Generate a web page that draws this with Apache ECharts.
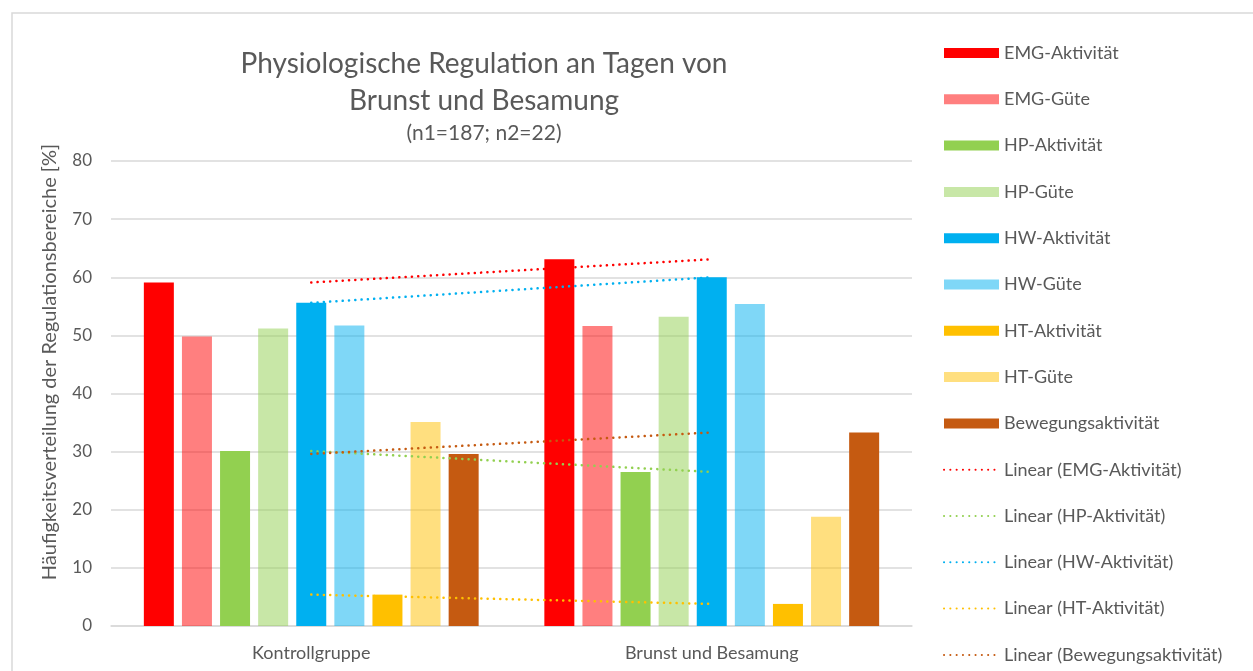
<!DOCTYPE html>
<html>
<head>
<meta charset="utf-8">
<script src="https://cdn.jsdelivr.net/npm/echarts@6/dist/echarts.min.js"></script>
<style>
  html, body { margin: 0; padding: 0; background: #fff; }
  #chart { width: 1253px; height: 671px; }
</style>
</head>
<body>
<div id="chart"></div>
<script>
// Kategorien und Werte
var gruppen = ['Kontrollgruppe', 'Brunst und Besamung'];
var emgAktivitaet = [59.1, 63.1];
var emgGuete = [49.8, 51.6];
var hpAktivitaet = [30.1, 26.5];
var hpGuete = [51.2, 53.2];
var hwAktivitaet = [55.6, 60.0];
var hwGuete = [51.7, 55.4];
var htAktivitaet = [5.4, 3.8];
var htGuete = [35.1, 18.8];
var bewegung = [29.6, 33.3];

var font = 'Lato';
var grau = '#595959';

var myChart = echarts.init(document.getElementById('chart'));

function balken(name, data, color) {
    return {
        name: name,
        type: 'bar',
        data: data,
        barWidth: 30,
        barGap: '27%',
        itemStyle: { color: color },
        z: 2
    };
}

function trend(name, data, color) {
    return {
        name: name,
        type: 'line',
        data: data,
        symbol: 'none',
        silent: true,
        lineStyle: { color: color, width: 2.5, type: [0.1, 6.2], cap: 'round' },
        itemStyle: { color: color },
        z: 5
    };
}

// Legendeneintrag fuer Trendlinien: nur die gepunktete Linie, kein Symbol
function trendLegende(name) {
    return { name: name, itemStyle: { color: 'rgba(0,0,0,0)', borderWidth: 0 } };
}

var option = {
    backgroundColor: '#fff',
    animation: false,
    textStyle: { fontFamily: font },
    graphic: [{
        type: 'rect',
        shape: { x: 12, y: 13, width: 1300, height: 700 },
        style: { fill: 'none', stroke: '#d9d9d9', lineWidth: 1.5 },
        silent: true
    }, {
        type: 'text',
        x: 50, y: 362,
        rotation: Math.PI / 2,
        style: {
            text: 'Häufigkeitsverteilung der Regulationsbereiche [%]',
            fontFamily: font, fontSize: 20, fill: grau,
            align: 'center', verticalAlign: 'middle'
        },
        silent: true
    }],
    title: [{
        text: 'Physiologische Regulation an Tagen von\nBrunst und Besamung',
        left: 479, top: 40, textAlign: 'center',
        textStyle: { fontFamily: font, fontSize: 28, fontWeight: 'normal', color: grau, lineHeight: 37 }
    }, {
        text: '(n1=187; n2=22)',
        left: 479, top: 118, textAlign: 'center',
        textStyle: { fontFamily: font, fontSize: 21, fontWeight: 'normal', color: grau }
    }],
    legend: {
        orient: 'vertical',
        left: 938, top: 39,
        height: 650,
        itemWidth: 55, itemHeight: 10,
        itemGap: 28.3,
        textStyle: { fontFamily: font, fontSize: 18, color: grau, lineHeight: 18 },
        selectedMode: false,
        data: [
            { name: 'EMG-Aktivität', icon: 'rect' },
            { name: 'EMG-Güte', icon: 'rect' },
            { name: 'HP-Aktivität', icon: 'rect' },
            { name: 'HP-Güte', icon: 'rect' },
            { name: 'HW-Aktivität', icon: 'rect' },
            { name: 'HW-Güte', icon: 'rect' },
            { name: 'HT-Aktivität', icon: 'rect' },
            { name: 'HT-Güte', icon: 'rect' },
            { name: 'Bewegungsaktivität', icon: 'rect' },
            trendLegende('Linear (EMG-Aktivität)'),
            trendLegende('Linear (HP-Aktivität)'),
            trendLegende('Linear (HW-Aktivität)'),
            trendLegende('Linear (HT-Aktivität)'),
            trendLegende('Linear (Bewegungsaktivität)')
        ]
    },
    grid: { left: 111, right: 341, top: 161, bottom: 45 },
    xAxis: {
        type: 'category',
        data: gruppen,
        axisLine: { lineStyle: { color: '#d9d9d9', width: 1.5 } },
        axisTick: { show: false },
        axisLabel: { fontFamily: font, fontSize: 18, color: grau, margin: 18 }
    },
    yAxis: {
        type: 'value',
        min: 0, max: 80, interval: 10,
        axisLine: { show: false },
        axisTick: { show: false },
        axisLabel: { fontFamily: font, fontSize: 17, color: grau, margin: 19 },
        splitLine: { lineStyle: { color: '#d9d9d9', width: 1.5 } }
    },
    series: [
        balken('EMG-Aktivität', emgAktivitaet, '#ff0000'),
        balken('EMG-Güte', emgGuete, 'rgba(255,0,0,0.5)'),
        balken('HP-Aktivität', hpAktivitaet, '#92d050'),
        balken('HP-Güte', hpGuete, 'rgba(146,208,80,0.5)'),
        balken('HW-Aktivität', hwAktivitaet, '#00b0f0'),
        balken('HW-Güte', hwGuete, 'rgba(0,176,240,0.5)'),
        balken('HT-Aktivität', htAktivitaet, '#ffc000'),
        balken('HT-Güte', htGuete, 'rgba(255,192,0,0.5)'),
        balken('Bewegungsaktivität', bewegung, '#c55a11'),
        trend('Linear (EMG-Aktivität)', emgAktivitaet, '#ff0000'),
        trend('Linear (HP-Aktivität)', hpAktivitaet, '#92d050'),
        trend('Linear (HW-Aktivität)', hwAktivitaet, '#00b0f0'),
        trend('Linear (HT-Aktivität)', htAktivitaet, '#ffc000'),
        trend('Linear (Bewegungsaktivität)', bewegung, '#c55a11')
    ]
};

myChart.setOption(option);
</script>
</body>
</html>
